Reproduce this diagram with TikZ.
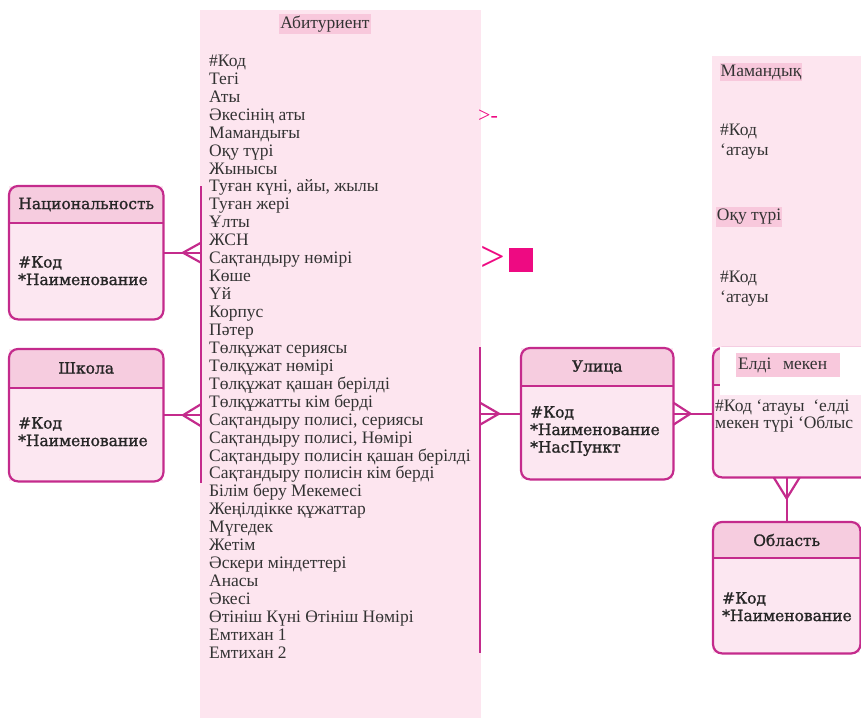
\documentclass[tikz,border=0pt]{standalone}
\usepackage{fontspec}
\setmainfont{Liberation Serif}
\newfontfamily\erfont[FakeBold=1.2]{DejaVu Serif}
\usepackage{tikz}
\usetikzlibrary{calc,positioning}

\definecolor{erline}{HTML}{C42B8C}
\definecolor{erhead}{HTML}{F6CCDF}
\definecolor{erbody}{HTML}{FCE7F1}
\definecolor{abitbg}{HTML}{FDE5EF}
\definecolor{abithl}{HTML}{F8C8DC}
\definecolor{hotpink}{HTML}{EE0A82}
\definecolor{txt}{HTML}{333333}
\definecolor{ertxt}{HTML}{262626}

\begin{document}
\begin{tikzpicture}[x=1pt,y=-1pt,
  ent/.style={fill=erbody, inner sep=0, anchor=north west},
  erframe/.style={draw=erline, line width=2.2pt, rounded corners=9pt},
  rel/.style={draw=erline, line width=2.2pt, line join=round},
  ertitle/.style={font=\erfont\fontsize{15.5}{17.5}\selectfont, text=ertxt, inner sep=0},
  erattr/.style={font=\erfont\fontsize{15.5}{17.5}\selectfont, text=ertxt, align=left, anchor=north west, inner sep=0},
  listtxt/.style={font=\fontsize{17.5}{17.94}\selectfont, text=txt, align=left, anchor=north west, inner sep=0},
  hl/.style={fill=abithl, text=txt, font=\fontsize{17.5}{20}\selectfont, inner xsep=1pt, inner ysep=2pt}]
  \useasboundingbox (0,0) rectangle (861,718);

  % Абитуриент
  \node[fill=abitbg, minimum width=281, minimum height=708, inner sep=0, anchor=north west] (abit) at (200,10) {};
  \node[hl] (abitT) at (325,24) {Абитуриент};
  \node[listtxt] (abitL) at (209,54.7) {\#Код\\Тегі\\Аты\\Әкесінің аты\\Мамандығы\\Оқу түрі\\Жынысы\\
    Туған күні, айы, жылы\\Туған жері\\Ұлты\\ЖСН\\Сақтандыру нөмірі\\Көше\\Үй\\Корпус\\Пәтер\\
    Төлқұжат сериясы\\Төлқұжат нөмірі\\Төлқұжат қашан берілді\\Төлқұжатты кім берді\\
    Сақтандыру полисі, сериясы\\Сақтандыру полисі, Нөмірі\\Сақтандыру полисін қашан берілді\\
    Сақтандыру полисін кім берді\\Білім беру Мекемесі\\Жеңілдікке құжаттар\\Мүгедек\\Жетім\\
    Әскери міндеттері\\Анасы\\Әкесі\\Өтініш Күні Өтініш Нөмірі\\Емтихан 1\\Емтихан 2};
  \coordinate (lw) at (201,186);
  \coordinate (rw) at (480,347);
  \draw[rel] (lw) -- (201,483);
  \draw[rel] (rw) -- (480,653);
  \node[text=hotpink, font=\fontsize{22}{22}\selectfont, inner sep=0] (gt1) at (488,116) {>-};
  \node[text=hotpink, font=\fontsize{44}{44}\selectfont, inner sep=0] (gt2) at (493,259) {>};
  \node[fill=hotpink, minimum size=24, inner sep=0, anchor=north west] (sq) at (509,248) {};

  % Мамандық / Оқу түрі
  \node[fill=abitbg, minimum width=149, minimum height=291, inner sep=0, anchor=north west] (mam) at (712,56) {};
  \node[hl] (mamT) at (761,72) {Мамандық};
  \node[listtxt, font=\fontsize{17.5}{19.6}\selectfont] (mamA) at (720,124.2) {\#Код\\‘атауы};
  \node[hl] (okuT) at (749,217) {Оқу түрі};
  \node[listtxt, font=\fontsize{17.5}{19.6}\selectfont] (okuA) at (720,271.2) {\#Код\\‘атауы};

  % Национальность
  \node[ent, minimum width=154, minimum height=133] (nat) at (9,186) {};
  \begin{scope}
    \clip[rounded corners=9pt] (nat.north west) rectangle (nat.south east);
    \fill[erhead] (nat.north west) rectangle ($(nat.north east)+(0,37)$);
  \end{scope}
  \draw[rel] ($(nat.north west)+(0,37)$) -- ($(nat.north east)+(0,37)$);
  \draw[erframe] (nat.north west) rectangle (nat.south east);
  \node[ertitle] (natT) at ($(nat.north)+(0,18.5)$) {Национальность};
  \node[erattr] (natA) at ($(nat.north west)+(9,70)$) {\#Код\\*Наименование};

  % Школа
  \node[ent, minimum width=154, minimum height=132] (sch) at (9,349) {};
  \begin{scope}
    \clip[rounded corners=9pt] (sch.north west) rectangle (sch.south east);
    \fill[erhead] (sch.north west) rectangle ($(sch.north east)+(0,39)$);
  \end{scope}
  \draw[rel] ($(sch.north west)+(0,39)$) -- ($(sch.north east)+(0,39)$);
  \draw[erframe] (sch.north west) rectangle (sch.south east);
  \node[ertitle] (schT) at ($(sch.north)+(0,19)$) {Школа};
  \node[erattr] (schA) at ($(sch.north west)+(9,68)$) {\#Код\\*Наименование};

  % Улица
  \node[ent, minimum width=152, minimum height=131] (ul) at (521,348) {};
  \begin{scope}
    \clip[rounded corners=9pt] (ul.north west) rectangle (ul.south east);
    \fill[erhead] (ul.north west) rectangle ($(ul.north east)+(0,38)$);
  \end{scope}
  \draw[rel] ($(ul.north west)+(0,38)$) -- ($(ul.north east)+(0,38)$);
  \draw[erframe] (ul.north west) rectangle (ul.south east);
  \node[ertitle] (ulT) at ($(ul.north)+(0,19)$) {Улица};
  \node[erattr] (ulA) at ($(ul.north west)+(9,58)$) {\#Код\\*Наименование\\*НасПункт};

  % Елді мекен
  \node[ent, minimum width=165, minimum height=129] (elm) at (713,348) {};
  \begin{scope}
    \clip[rounded corners=9pt] (elm.north west) rectangle (elm.south east);
    \fill[erhead] (elm.north west) rectangle ($(elm.north east)+(0,37)$);
  \end{scope}
  \draw[rel] ($(elm.north west)+(0,37)$) -- ($(elm.north east)+(0,37)$);
  \draw[erframe] (elm.north west) rectangle (elm.south east);
  \fill[white] (720,347) rectangle (861,395);
  \node[hl, anchor=north west, text width=100, minimum height=24, inner xsep=2pt, align=left] (elmT) at (736,353) {Елді\ \ мекен};
  \node[listtxt, font=\fontsize{17.5}{17.5}\selectfont] (elmA) at (715,399.2) {\#Код ‘атауы \ ‘елді\\мекен түрі ‘Облыс};

  % Область
  \node[ent, minimum width=147, minimum height=131] (obl) at (713,522) {};
  \begin{scope}
    \clip[rounded corners=9pt] (obl.north west) rectangle (obl.south east);
    \fill[erhead] (obl.north west) rectangle ($(obl.north east)+(0,36)$);
  \end{scope}
  \draw[rel] ($(obl.north west)+(0,36)$) -- ($(obl.north east)+(0,36)$);
  \draw[erframe] (obl.north west) rectangle (obl.south east);
  \node[ertitle] (oblT) at ($(obl.north)+(0,18)$) {Область};
  \node[erattr] (oblA) at ($(obl.north west)+(9,70)$) {\#Код\\*Наименование};

  % connectors
  \draw[rel] (nat.east) -- (nat.east -| lw);
  \draw[rel] ($(nat.east -| lw)+(0,-10)$) -- ($(nat.east -| lw)+(-18,0)$) -- ($(nat.east -| lw)+(0,10)$);
  \draw[rel] (sch.east) -- (sch.east -| lw);
  \draw[rel] ($(sch.east -| lw)+(0,-11)$) -- ($(sch.east -| lw)+(-18,0)$) -- ($(sch.east -| lw)+(0,11)$);
  \draw[rel] (ul.west) -- (ul.west -| rw);
  \draw[rel] ($(ul.west -| rw)+(0,-11)$) -- ($(ul.west -| rw)+(19,0)$) -- ($(ul.west -| rw)+(0,11)$);
  \draw[rel] (ul.east) -- (ul.east -| elm.west);
  \draw[rel] ($(ul.east)+(0,-11)$) -- ($(ul.east)+(17,0)$) -- ($(ul.east)+(0,11)$);
  \draw[rel] (obl.north) -- (obl.north |- elm.south);
  \draw[rel] ($(obl.north |- elm.south)+(-13,0)$) -- ($(obl.north |- elm.south)+(0,21)$) -- ($(obl.north |- elm.south)+(13,0)$);
\end{tikzpicture}
\end{document}
